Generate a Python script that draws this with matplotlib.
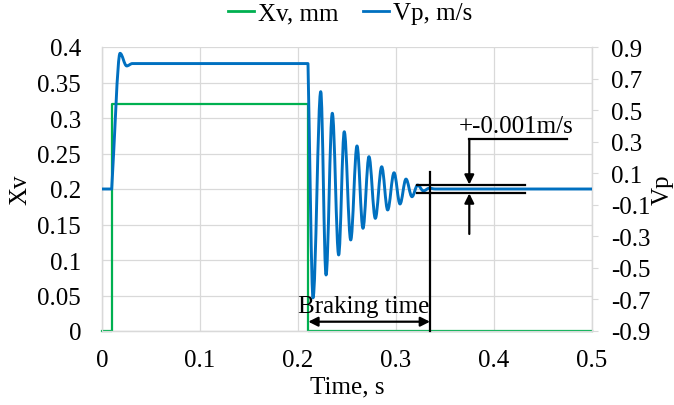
import matplotlib
matplotlib.use("Agg")
import matplotlib.pyplot as plt
from matplotlib.path import Path
from matplotlib.patches import PathPatch
from matplotlib.lines import Line2D

plt.rcParams['font.family'] = ['Liberation Serif', 'DejaVu Serif']
plt.rcParams['font.size'] = 18

# ---- data ----
xv_t = [0.0, 0.01, 0.21, 0.5]
xv_v = [0.0, 0.32, 0.0, 0.0]

# Vp key points (extrema / corners)
vp_t = [0.0, 0.0099, 0.0184, 0.0252, 0.031, 0.2102, 0.2153, 0.2232, 0.2286,
        0.2350, 0.2415, 0.2472, 0.2538, 0.2602, 0.2663, 0.2724, 0.2789,
        0.2854, 0.2915, 0.2980, 0.3041, 0.3102, 0.3163, 0.3221, 0.3280,
        0.3340, 0.3400, 0.5]
vp_v = [0.0, 0.0, 0.86, 0.78, 0.795, 0.795, -0.69, 0.617, -0.545,
        0.48, -0.418, 0.363, -0.323, 0.273, -0.249, 0.205, -0.186,
        0.141, -0.133, 0.103, -0.095, 0.063, -0.049, 0.025, -0.012,
        0.005, 0.0, 0.0]
# segment shapes: L = straight, E = straight start / rounded end, S = smooth between extrema
vp_seg = ['L', 'E', 'S', 'S', 'L', 'E'] + ['S'] * 20 + ['L']

xv_ticks = [0, 0.05, 0.1, 0.15, 0.2, 0.25, 0.3, 0.35, 0.4]
vp_ticks = [-0.9, -0.7, -0.5, -0.3, -0.1, 0.1, 0.3, 0.5, 0.7, 0.9]
t_ticks = [0, 0.1, 0.2, 0.3, 0.4, 0.5]

GREEN = '#00B050'
BLUE = '#0070C0'
GRID = '#D9D9D9'

fig = plt.figure(figsize=(6.74, 4.06), dpi=100)
ax = fig.add_axes([102/674, 1-332/406, 490/674, 284/406])
ax2 = ax.twinx()

ax.set_xlim(0, 0.5)
ax.set_ylim(0, 0.4)
ax2.set_ylim(-0.9, 0.9)

ax.set_xticks(t_ticks)
ax.set_xticklabels(['0', '0.1', '0.2', '0.3', '0.4', '0.5'])
ax.set_yticks(xv_ticks)
ax.set_yticklabels(['0', '0.05', '0.1', '0.15', '0.2', '0.25', '0.3', '0.35', '0.4'])
ax2.set_yticks(vp_ticks)
ax2.set_yticklabels(['-0.9', '-0.7', '-0.5', '-0.3', '-0.1', '0.1', '0.3', '0.5', '0.7', '0.9'])

ax.grid(True, color=GRID, linewidth=0.9)
ax.set_axisbelow(True)
for a in (ax, ax2):
    a.spines['top'].set_visible(False)
    for s in ('left', 'right', 'bottom'):
        a.spines[s].set_color(GRID)
        a.spines[s].set_linewidth(0.9)
ax.tick_params(axis='y', length=0, pad=15)
ax.tick_params(axis='x', length=0, pad=13)
ax2.tick_params(axis='y', length=4, color=GRID, pad=10)

# Xv step line
ax.plot(xv_t, xv_v, drawstyle='steps-post', color=GREEN, lw=1.6, clip_on=False, zorder=3)

# Vp smooth path
verts = [(vp_t[0], vp_v[0])]
codes = [Path.MOVETO]
for i, kind in enumerate(vp_seg):
    t0, v0, t1, v1 = vp_t[i], vp_v[i], vp_t[i+1], vp_v[i+1]
    dt = t1 - t0
    if kind == 'L':
        verts.append((t1, v1)); codes.append(Path.LINETO)
    elif kind == 'E':
        verts += [(t0 + dt/3, v0 + (v1-v0)/3), (t1 - 0.3*dt, v1), (t1, v1)]
        codes += [Path.CURVE4]*3
    else:
        verts += [(t0 + 0.36*dt, v0), (t1 - 0.36*dt, v1), (t1, v1)]
        codes += [Path.CURVE4]*3
ax2.add_patch(PathPatch(Path(verts, codes), fill=False, edgecolor=BLUE, lw=2.1,
                        zorder=3, capstyle='butt', joinstyle='round'))

# annotations
K = 'black'
lwk = 1.6
ax2.plot([0.3347, 0.3347], [-0.9, 0.11], color=K, lw=lwk, zorder=5, clip_on=False)
ax.annotate('', xy=(0.2105, 0.0131), xytext=(0.3347, 0.0131),
            arrowprops=dict(arrowstyle='<|-|>', color=K, lw=lwk, shrinkA=0, shrinkB=0,
                            mutation_scale=14), zorder=5)
ax.text(0.2673, 0.0268, 'Braking time', ha='center', va='baseline', fontsize=18, zorder=6)

ax2.plot([0.3217, 0.4316], [0.025, 0.025], color=K, lw=lwk, zorder=5)
ax2.plot([0.3217, 0.4316], [-0.025, -0.025], color=K, lw=lwk, zorder=5)
ax2.plot([0.3748, 0.474], [0.317, 0.317], color=K, lw=lwk, zorder=5)
ax2.annotate('', xy=(0.3748, 0.028), xytext=(0.3748, 0.317),
             arrowprops=dict(arrowstyle='-|>', color=K, lw=lwk, shrinkA=0, shrinkB=0,
                             mutation_scale=14), zorder=5)
ax2.annotate('', xy=(0.3748, -0.028), xytext=(0.3748, -0.285),
             arrowprops=dict(arrowstyle='-|>', color=K, lw=lwk, shrinkA=0, shrinkB=0,
                             mutation_scale=14), zorder=5)
ax2.text(0.4225, 0.40, '+-0.001m/s', ha='center', va='center', fontsize=18, zorder=6)

# labels
ax.set_xlabel('Time, s', va='center')
ax.xaxis.set_label_coords(0.5, -0.194)
ax.set_ylabel('Xv', va='center')
ax.yaxis.set_label_coords(-0.167, 0.5)
ax2.set_ylabel('Vp', rotation=90, va='center')
ax2.yaxis.set_label_coords(1.145, 0.5)

handles = [Line2D([], [], color=GREEN, lw=2), Line2D([], [], color=BLUE, lw=2)]
fig.legend(handles, ['Xv, mm', 'Vp, m/s'], loc='center', bbox_to_anchor=(350/674, 1-14/406),
           ncol=2, frameon=False, handlelength=1.05, handletextpad=0.15,
           columnspacing=1.0, fontsize=18, borderpad=0)

fig.savefig('out.png', dpi=100)
